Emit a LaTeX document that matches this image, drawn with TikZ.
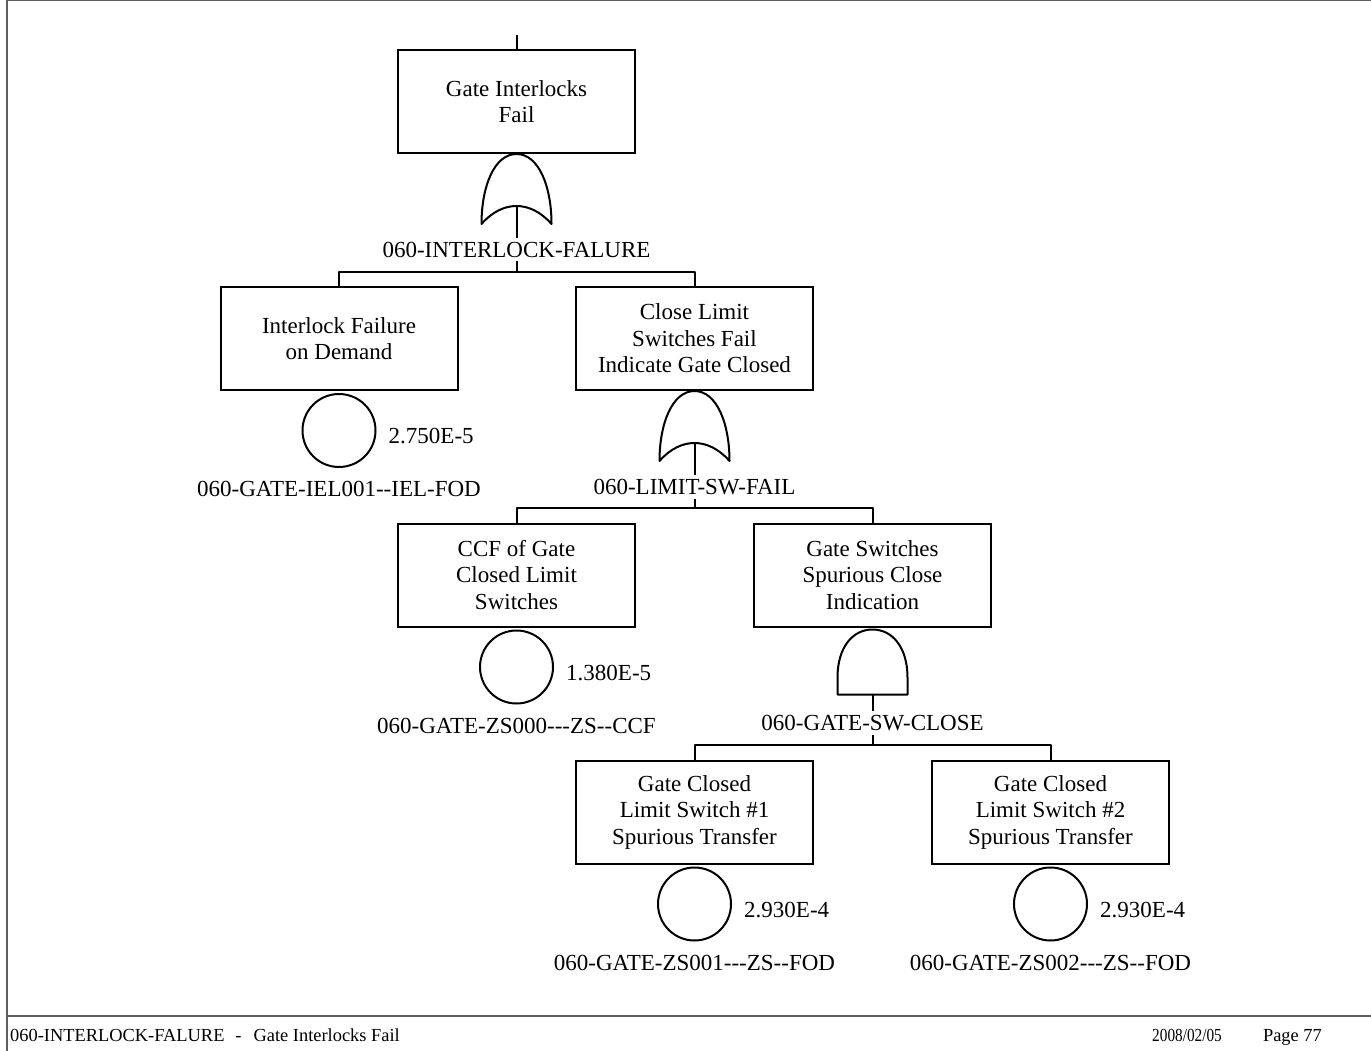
\documentclass[tikz,border=0pt]{standalone}
\usepackage{fontspec}
\usepackage{graphicx}
\setmainfont{Liberation Serif}
\usetikzlibrary{positioning}
\definecolor{Ink}{HTML}{000000}
\definecolor{Frame}{HTML}{5F5F5F}
\tikzset{
  eventbox/.style={draw=Ink,line width=2pt,minimum width=237pt,minimum height=103pt,align=center,font=\fontsize{23}{26.5}\selectfont,inner sep=2pt},
  basiccirc/.style={draw=Ink,circle,line width=2pt,minimum size=73pt,inner sep=0pt},
  gatelabel/.style={font=\fontsize{23}{26.5}\selectfont,inner sep=4pt,text height=15.5pt,text depth=0pt},
  problabel/.style={font=\fontsize{23}{26.5}\selectfont,inner sep=0pt},
  footlabel/.style={font=\fontsize{18.4}{20}\selectfont,inner sep=0pt},
  line/.style={draw=Ink,line width=2pt,line join=round},
  orgate/.pic={
    \draw[line] (0,0) .. controls (22,0) and (35,32) .. (35,70)
      .. controls (14,46) and (-14,46) .. (-35,70)
      .. controls (-35,32) and (-22,0) .. (0,0);
    \coordinate (-out) at (0,52);
  },
  andgate/.pic={
    \draw[line] (-35,65) -- (-35,48) .. controls (-35,18) and (-20,0) .. (0,0)
      .. controls (20,0) and (35,18) .. (35,48) -- (35,65) -- cycle;
    \coordinate (-out) at (0,65);
  }
}

\begin{document}
\begin{tikzpicture}[x=1pt,y=-1pt]
  \useasboundingbox (0,0) rectangle (1371,1051);
  % page frame and footer
  \draw[Frame,line width=1.5pt] (1371,0.75) -- (7,0.75) -- (7,1051);
  \draw[Frame,line width=1.2pt] (7,1016) -- (1371,1016);
  \node[footlabel,anchor=base west] (ftl) at (10,1041) {060-INTERLOCK-FALURE\hspace{11pt}-\hspace{12pt}Gate Interlocks Fail};
  \node[footlabel,anchor=base east] (ftpage) at (1322,1041) {Page 77};
  \node[footlabel,anchor=base east] (ftdate) at (1222,1041) {\scalebox{0.83}[1]{2008/02/05}};

  % top event
  \coordinate (gifin) at (516.5,35);
  \node[eventbox] (gif) at (516.5,101.5) {Gate Interlocks\\Fail};
  \draw[line] (gifin) -- (gif.north);
  \pic (g1) at (gif.south) {orgate};
  \node[gatelabel] (g1lbl) at (516.5,249.5) {060-INTERLOCK-FALURE};
  \draw[line] (g1-out) -- (g1lbl.north);
  \coordinate (bar1) at (516.5,272);
  \draw[line] (g1lbl.south) -- (bar1);
  \node[eventbox] (ifd) at (339,338.5) {Interlock Failure\\on Demand};
  \node[eventbox] (cls) at (694.5,338.5) {Close Limit\\Switches Fail\\Indicate Gate Closed};
  \draw[line] (ifd.north) |- (bar1) -| (cls.north);

  % basic event under interlock failure
  \node[basiccirc,below=2pt of ifd] (ifdev) {};
  \node[problabel,right=12pt of ifdev,yshift=-6pt] (ifdp) {2.750E-5};
  \node[gatelabel,below=9pt of ifdev] (ifdn) {060-GATE-IEL001-{}-IEL-FOD};

  % limit switch gate
  \pic (g2) at (cls.south) {orgate};
  \node[gatelabel] (g2lbl) at (694.5,487) {060-LIMIT-SW-FAIL};
  \draw[line] (g2-out) -- (g2lbl.north);
  \coordinate (bar2) at (694.5,508);
  \draw[line] (g2lbl.south) -- (bar2);
  \node[eventbox] (ccf) at (516.5,575) {CCF of Gate\\Closed Limit\\Switches};
  \node[eventbox] (gss) at (872.5,575) {Gate Switches\\Spurious Close\\Indication};
  \draw[line] (ccf.north) |- (bar2) -| (gss.north);

  \node[basiccirc,below=2pt of ccf] (ccfev) {};
  \node[problabel,right=12pt of ccfev,yshift=-6pt] (ccfp) {1.380E-5};
  \node[gatelabel,below=9pt of ccfev] (ccfn) {060-GATE-ZS000-{}-{}-ZS-{}-CCF};

  % spurious close gate
  \pic (g3) at ([yshift=-2pt]gss.south) {andgate};
  \node[gatelabel] (g3lbl) at (872.5,723) {060-GATE-SW-CLOSE};
  \draw[line] (g3-out) -- (g3lbl.north);
  \coordinate (bar3) at (872.5,745);
  \draw[line] (g3lbl.south) -- (bar3);
  \node[eventbox] (ls1) at (694.5,812) {Gate Closed\\Limit Switch \#1\\Spurious Transfer};
  \node[eventbox] (ls2) at (1050.5,812) {Gate Closed\\Limit Switch \#2\\Spurious Transfer};
  \draw[line] (ls1.north) |- (bar3) -| (ls2.north);

  \node[basiccirc,below=2pt of ls1] (ls1ev) {};
  \node[problabel,right=12pt of ls1ev,yshift=-6pt] (ls1p) {2.930E-4};
  \node[gatelabel,below=9pt of ls1ev] (ls1n) {060-GATE-ZS001-{}-{}-ZS-{}-FOD};

  \node[basiccirc,below=2pt of ls2] (ls2ev) {};
  \node[problabel,right=12pt of ls2ev,yshift=-6pt] (ls2p) {2.930E-4};
  \node[gatelabel,below=9pt of ls2ev] (ls2n) {060-GATE-ZS002-{}-{}-ZS-{}-FOD};
\end{tikzpicture}
\end{document}
